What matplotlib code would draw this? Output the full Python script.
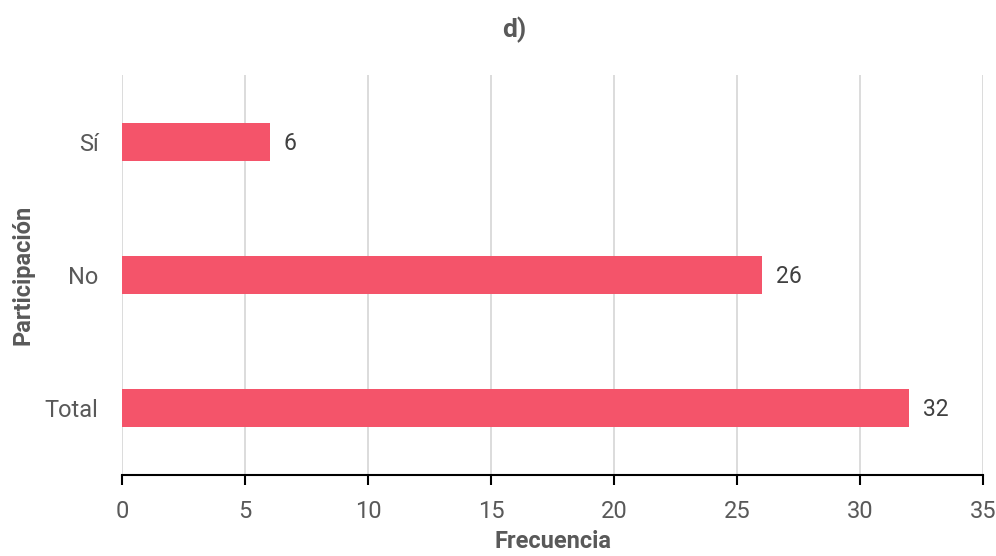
import matplotlib.pyplot as plt

# data
categories = ["Total", "No", "Sí"]
values = [32, 26, 6]
x_ticks = [0, 5, 10, 15, 20, 25, 30, 35]

plt.rcParams['font.family'] = ['Roboto', 'DejaVu Sans']

BAR = "#F4546A"
TXT = "#595959"

fig = plt.figure(figsize=(9.96, 5.56), dpi=100)
ax = fig.add_axes([0.1225, 0.1457, 0.8645, 0.7195])

ypos = range(len(categories))
bars = ax.barh(ypos, values, height=0.285, color=BAR, zorder=3)

for b, v in zip(bars, values):
    ax.annotate(str(v), (b.get_width(), b.get_y() + b.get_height() / 2),
                xytext=(10, -1), textcoords="offset points",
                va="center", ha="left", fontsize=16.5, color="#404040")

ax.set_xlim(0, 35)
ax.set_ylim(-0.5, 2.5)
ax.set_xticks(x_ticks)
ax.set_yticks(list(ypos))
ax.set_yticklabels(categories)

ax.grid(axis="x", color="#d9d9d9", linewidth=1.3, zorder=0)
for s in ["top", "right", "left"]:
    ax.spines[s].set_visible(False)
ax.spines["bottom"].set_color("black")
ax.spines["bottom"].set_linewidth(1.5)
ax.spines["bottom"].set_zorder(4)

ax.tick_params(axis="x", length=7, width=1.5, color="black", pad=11,
               labelsize=17, labelcolor=TXT)
ax.tick_params(axis="y", length=0, pad=17, labelsize=17, labelcolor=TXT)

ax.set_xlabel("Frecuencia", fontsize=17, fontweight="bold", color=TXT, labelpad=5)
ax.set_ylabel("Participación", fontsize=17, fontweight="bold", color=TXT, labelpad=7)
fig.suptitle("d)", x=0.5165, y=0.97, fontsize=19, fontweight="bold", color=TXT)

fig.savefig("out.png", dpi=100)
